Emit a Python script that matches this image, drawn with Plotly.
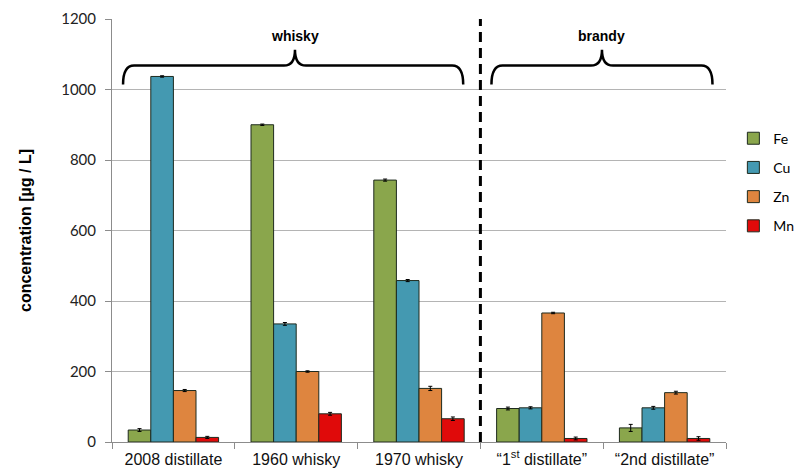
import plotly.graph_objects as go

# Samples and measured metal concentrations (µg/L)
samples = ["2008 distillate", "1960 whisky", "1970 whisky",
           "“1<sup>st</sup> distillate”", "“2nd distillate”"]
metals = ["Fe", "Cu", "Zn", "Mn"]

fe = [34, 900, 743, 95, 40]
cu = [1037, 335, 458, 97, 97]
zn = [146, 200, 152, 366, 140]
mn = [13, 80, 66, 10, 10]

fe_err = [4, 2, 3, 4, 10]
cu_err = [2, 4, 3, 3, 4]
zn_err = [3, 2, 6, 2, 4]
mn_err = [3, 4, 5, 4, 5]

colors = ["#8AA64C", "#4499B1", "#DE853F", "#E00A0A"]
values = [fe, cu, zn, mn]
errors = [fe_err, cu_err, zn_err, mn_err]

xpos = list(range(len(samples)))

fig = go.Figure()
for name, vals, errs, col in zip(metals, values, errors, colors):
    fig.add_trace(go.Bar(
        x=xpos, y=vals, name=name, legendgroup=name,
        marker=dict(color=col, line=dict(color="#1e2a1e", width=1)),
        error_y=dict(type="data", array=errs, color="black", thickness=1, width=2),
    ))

# Curly braces grouping the samples
def brace(x0, x1, xm, yb=1014, yh=1068, yt=1113, rx=0.09):
    return (f"M {x0},{yb} Q {x0},{yh} {x0+rx},{yh} "
            f"L {xm-rx},{yh} Q {xm},{yh} {xm},{yt} "
            f"Q {xm},{yh} {xm+rx},{yh} "
            f"L {x1-rx},{yh} Q {x1},{yh} {x1},{yb}")

shapes = [
    dict(type="path", xref="x", yref="y", path=brace(-0.41, 2.36, 0.99),
         line=dict(color="black", width=2.5)),
    dict(type="path", xref="x", yref="y", path=brace(2.59, 4.39, 3.49),
         line=dict(color="black", width=2.5)),
    dict(type="line", xref="x", yref="paper", x0=2.5, x1=2.5, y0=0, y1=1,
         line=dict(color="black", width=3, dash="10px,6px")),
]

annotations = [
    dict(x=0.99, y=1153, xref="x", yref="y", text="<b>whisky</b>", showarrow=False,
         font=dict(family="Liberation Sans, Arial", size=14, color="black")),
    dict(x=3.49, y=1153, xref="x", yref="y", text="<b>brandy</b>", showarrow=False,
         font=dict(family="Liberation Sans, Arial", size=14, color="black")),
]

fig.update_layout(
    width=811, height=470,
    margin=dict(l=112, r=74, t=19, b=28),
    plot_bgcolor="white", paper_bgcolor="white",
    barmode="group", bargap=0.264, bargroupgap=0,
    shapes=shapes, annotations=annotations,
    showlegend=True,
    legend=dict(x=1.012, y=0.755, xanchor="left", yanchor="top",
                font=dict(family="Lato, Carlito, sans-serif", size=14, color="black"),
                tracegroupgap=8, itemwidth=30, bgcolor="rgba(0,0,0,0)"),
    xaxis=dict(
        range=[-0.5, 4.5], tickmode="array", tickvals=xpos, ticktext=samples,
        ticks="", showgrid=False, showline=True, linecolor="#8c8c8c", linewidth=1,
        tickfont=dict(family="Liberation Sans, Arial", size=16, color="#111"),
        ticklabelstandoff=3, automargin=False,
        minor=dict(tickmode="linear", tick0=-0.5, dtick=1, ticks="outside",
                   ticklen=6, tickcolor="#8c8c8c", showgrid=False),
        zeroline=False,
    ),
    yaxis=dict(
        range=[0, 1200], tickvals=[0, 200, 400, 600, 800, 1000, 1200],
        showgrid=True, gridcolor="#b4b4b4", gridwidth=1,
        showline=True, linecolor="#8c8c8c", linewidth=1,
        ticks="outside", ticklen=6, tickcolor="#8c8c8c",
        ticklabelstandoff=6, automargin=False,
        tickfont=dict(family="Lato, Carlito, sans-serif", size=15, color="#222"),
        title=dict(text="<b>concentration [µg / L]</b>", standoff=25,
                   font=dict(family="Liberation Sans, Arial", size=16, color="black")),
        zeroline=False,
    ),
)

fig.write_html("out.html")
